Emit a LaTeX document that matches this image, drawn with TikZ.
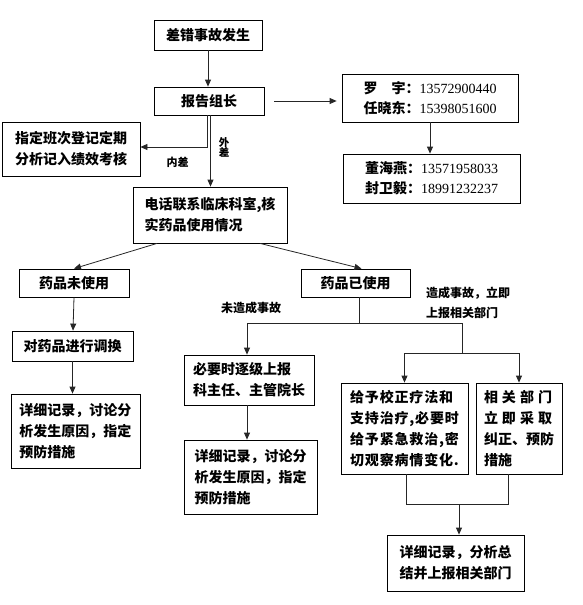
\documentclass[tikz,border=0pt]{standalone}
\usepackage{fontspec}
\setmainfont{Noto Sans CJK SC}
\newfontfamily\numfont{Liberation Serif}
\newfontfamily\widecjk{Noto Sans CJK SC}[LetterSpace=6]
\usetikzlibrary{arrows.meta,positioning}
\tikzset{
  eventbox/.style={draw=black,line width=0.8pt,inner sep=0pt,align=left,
    font=\bfseries\fontsize{14}{21}\selectfont},
  flowarrow/.style={-{Triangle[length=7pt,width=6pt]},
    line width=0.8pt,draw=black!85},
  flowline/.style={line width=0.8pt,draw=black!85},
  branchtag/.style={inner sep=0pt,align=left,
    font=\bfseries\fontsize{12}{20}\selectfont},
}

\begin{document}
\begin{tikzpicture}[x=1pt,y=-1pt]
  \useasboundingbox (0,0) rectangle (583,605);
  % report chain
  \node[eventbox,minimum width=108pt,minimum height=30pt] (accident) at (208,35) {差错事故发生};
  \node[eventbox,minimum width=110pt,minimum height=28pt] (leader) at (209,101) {报告组长};
  \node[eventbox,minimum width=138pt,minimum height=54pt] (assign) at (71,149)
    {指定班次登记定期\\分析记入绩效考核};
  \node[eventbox,minimum width=176pt,minimum height=48pt,
        font=\bfseries\fontsize{14}{20}\selectfont] (phoneA) at (430,98)
    {罗　宇：{\numfont\mdseries 13572900440}\\任晓东：{\numfont\mdseries 15398051600}};
  \node[eventbox,minimum width=177pt,minimum height=49pt,
        font=\bfseries\fontsize{14}{20}\selectfont] (phoneB) at (431.5,178.5)
    {董海燕：{\numfont\mdseries 13571958033}\\封卫毅：{\numfont\mdseries 18991232237}};
  \node[eventbox,minimum width=154pt,minimum height=56pt] (check) at (210,215)
    {电话联系临床科室,核\\实药品使用情况};
  % drug not used
  \node[eventbox,minimum width=110pt,minimum height=28pt] (unused) at (74,283) {药品未使用};
  \node[eventbox,minimum width=121pt,minimum height=30pt] (swap) at (72.5,346) {对药品进行调换};
  \node[eventbox,minimum width=129pt,minimum height=74pt] (recordL) at (75.5,431)
    {详细记录，讨论分\\析发生原因，指定\\预防措施};
  % drug used
  \node[eventbox,minimum width=109pt,minimum height=28pt] (used) at (355.5,283) {药品已使用};
  \node[eventbox,minimum width=130pt,minimum height=50pt] (escalate) at (249,380)
    {必要时逐级上报\\科主任、主管院长};
  \node[eventbox,minimum width=133pt,minimum height=74pt] (recordM) at (250.5,477)
    {详细记录，讨论分\\析发生原因，指定\\预防措施};
  \node[eventbox,minimum width=127pt,minimum height=91pt,
        font=\widecjk\bfseries\fontsize{14}{21}\selectfont] (treat) at (404.5,428.5)
    {给予校正疗法和\\支持治疗,必要时\\给予紧急救治,密\\切观察病情变化.};
  \node[eventbox,minimum width=86pt,minimum height=91pt] (dept) at (519,428.5)
    {\makebox[68pt][s]{相\hfill 关\hfill 部\hfill 门}\\
     \makebox[68pt][s]{立\hfill 即\hfill 采\hfill 取}\\纠正、预防\\措施};
  \node[eventbox,minimum width=137pt,minimum height=56pt] (summary) at (455.5,563)
    {详细记录，分析总\\结并上报相关部门};
  \node[branchtag] (harmtag) at (468,303) {造成事故，立即\\上报相关部门};

  % connectors
  \draw[flowarrow] (accident.south) -- (accident.south |- leader.north);
  \draw[flowarrow] ([xshift=-2pt]leader.south) |- ([yshift=2pt]assign.east)
    node[branchtag,pos=0.75,below=10pt,xshift=4pt,font=\bfseries\fontsize{11}{12}\selectfont] {内差};
  \draw[flowarrow] ([xshift=1.5pt]leader.south) -- ([xshift=0.5pt]check.north)
    node[branchtag,pos=0.45,right=8pt,align=center,
         font=\bfseries\fontsize{10.5}{10.5}\selectfont] {外\\差};
  \draw[flowarrow,shorten <=10pt,shorten >=5pt] (leader.east) -- (leader.east -| phoneA.west);
  \draw[flowarrow] (phoneA.south) -- (phoneA.south |- phoneB.north);
  \draw[flowarrow] ([xshift=-53pt]check.south) -- (unused.north);
  \draw[flowarrow] ([xshift=50pt]check.south) -- ([xshift=6pt]used.north);
  \draw[flowarrow] (unused.south) -- ([xshift=0.5pt]swap.north);
  \draw[flowarrow] (swap.south) -- (swap.south |- recordL.north);

  \draw[flowline] ([xshift=3.5pt]used.south) -- ++(0,26) coordinate (usedsplit);
  \draw[flowarrow] (usedsplit) -| ([xshift=-2pt]escalate.north)
    node[branchtag,pos=0.5,above=9pt,xshift=4pt] {未造成事故};
  \draw[flowline] (usedsplit) -| ++(103,30) coordinate (harmsplit);
  \draw[flowarrow] (harmsplit) -| (treat.north);
  \draw[flowarrow] (harmsplit) -| (dept.north);
  \draw[flowarrow] ([xshift=-2pt]escalate.south) -- ([xshift=-2pt]escalate.south |- recordM.north);

  \draw[flowline] ([xshift=1.5pt]treat.south) -- ++(0,30) coordinate (treatjoin)
    -| ([xshift=-11pt]dept.south);
  \draw[flowarrow] ([xshift=3.5pt]summary.north |- treatjoin) -- ([xshift=3.5pt]summary.north);
\end{tikzpicture}
\end{document}
